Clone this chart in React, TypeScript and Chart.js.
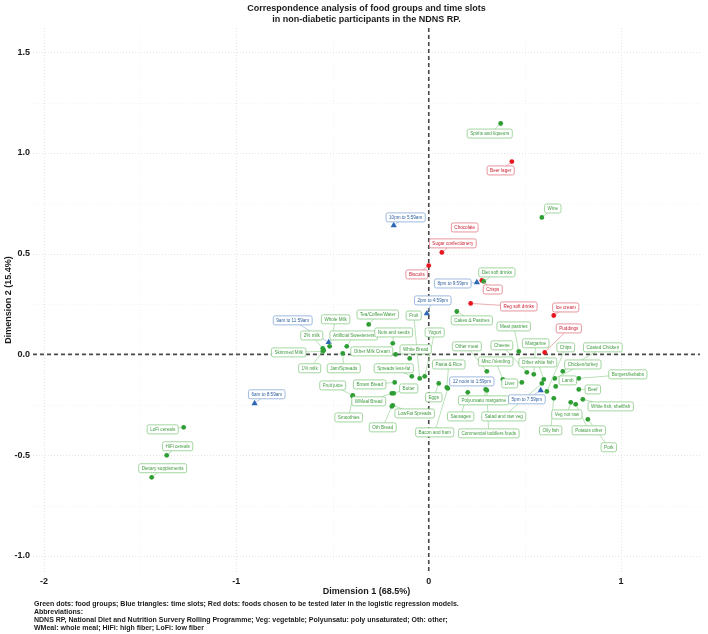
import { useEffect, useRef } from "react";
import { Chart, registerables } from "chart.js";

Chart.register(...registerables);

const FONT = '"Liberation Sans", Arial, Helvetica, sans-serif';

// ---- Data ----
const foodNames = [
  "Spirits and liqueurs", "Wine", "Diet soft drinks", "Cakes & Pastries", "Meat pastries",
  "Other meat", "Cheese", "Margarine", "Chips", "Coated Chicken",
  "Pasta & Rice", "Misc./Vending", "Other white fish", "Chicken/turkey", "Burgers/kebabs",
  "Liver", "Lamb", "Beef", "Eggs", "Polyunsatu margarine",
  "Sausages", "Salad and raw veg", "Veg not raw", "White fish, shellfish", "Bacon and ham",
  "Commercial toddlers foods", "Oily fish", "Potatos other", "Pork", "Tea/Coffee/Water",
  "Whole Milk", "Artificial Sweeteners", "2% milk", "Skimmed Milk", "1% milk",
  "Jam/Spreads", "Nuts and seeds", "Other Milk Cream", "White Bread", "Spreads less-fat",
  "Fruit", "Yogurt", "Brown Bread", "Butter", "WMeal Bread",
  "LowFat Spreads", "Oth Bread", "Fruit juice", "Smoothies", "LoFi cereals",
  "HiFi cereals", "Dietary supplements",
];
const foodDim1 = [
  0.374, 0.588, 0.286, 0.146, 0.468,
  0.302, 0.510, 0.546, 0.614, 0.697,
  0.094, 0.385, 0.598, 0.655, 0.780,
  0.484, 0.660, 0.780, 0.052, 0.296,
  0.203, 0.588, 0.738, 0.801, 0.099,
  0.302, 0.650, 0.764, 0.827, -0.312,
  -0.515, -0.426, -0.551, -0.551, -0.546,
  -0.447, -0.187, -0.172, -0.099, -0.088,
  -0.047, -0.021, -0.177, -0.182, -0.192,
  -0.187, -0.192, -0.395, -0.395, -1.274,
  -1.362, -1.440,
];
const foodDim2 = [
  1.146, 0.680, 0.362, 0.213, 0.015,
  -0.084, -0.089, -0.099, -0.184, -0.084,
  -0.164, -0.124, -0.124, -0.119, -0.119,
  -0.139, -0.159, -0.174, -0.144, -0.174,
  -0.188, -0.144, -0.238, -0.223, -0.169,
  -0.179, -0.218, -0.248, -0.322, 0.149,
  0.040, 0.040, 0.030, 0.015, 0.020,
  0.005, 0.055, 0.000, -0.020, -0.109,
  -0.119, -0.109, -0.139, -0.193, -0.193,
  -0.253, -0.258, -0.203, -0.208, -0.362,
  -0.501, -0.610,
];
const foodLabelDim1 = [
  0.317, 0.645, 0.354, 0.224, 0.442,
  0.198, 0.380, 0.556, 0.712, 0.905,
  0.104, 0.348, 0.567, 0.801, 1.035,
  0.421, 0.723, 0.853, 0.026, 0.286,
  0.166, 0.390, 0.718, 0.946, 0.031,
  0.312, 0.634, 0.832, 0.936, -0.265,
  -0.484, -0.390, -0.608, -0.728, -0.619,
  -0.442, -0.182, -0.296, -0.068, -0.182,
  -0.078, 0.031, -0.307, -0.104, -0.312,
  -0.073, -0.239, -0.499, -0.416, -1.383,
  -1.305, -1.383,
];
const foodLabelDim2 = [
  1.096, 0.724, 0.407, 0.169, 0.139,
  0.040, 0.045, 0.055, 0.035, 0.035,
  -0.050, -0.035, -0.040, -0.050, -0.099,
  -0.144, -0.129, -0.174, -0.213, -0.228,
  -0.308, -0.308, -0.298, -0.258, -0.387,
  -0.392, -0.377, -0.377, -0.461, 0.198,
  0.174, 0.094, 0.094, 0.010, -0.069,
  -0.069, 0.109, 0.015, 0.025, -0.069,
  0.193, 0.109, -0.149, -0.169, -0.233,
  -0.293, -0.362, -0.154, -0.313, -0.372,
  -0.456, -0.565,
];

const testedNames = [
  "Beer lager", "Chocolate", "Sugar confectionery", "Biscuits",
  "Crisps", "Reg soft drinks", "Ice cream", "Puddings",
];
const testedDim1 = [0.432, 0.172, 0.068, 0.0, 0.276, 0.218, 0.65, 0.603];
const testedDim2 = [0.957, 0.62, 0.506, 0.441, 0.367, 0.253, 0.193, 0.01];
const testedLabelDim1 = [0.374, 0.187, 0.125, -0.062, 0.333, 0.468, 0.712, 0.728];
const testedLabelDim2 = [0.913, 0.63, 0.551, 0.397, 0.322, 0.238, 0.233, 0.129];

const slotNames = [
  "10pm to 5:59am", "8pm to 9:59pm", "2pm to 4:59pm", "9am to 11:59am",
  "6am to 8:59am", "5pm to 7:59pm", "12 noon to 1:59pm",
];
const slotDim1 = [-0.182, 0.25, -0.01, -0.52, -0.905, 0.582, 0.203];
const slotDim2 = [0.64, 0.357, 0.203, 0.06, -0.243, -0.179, -0.139];
const slotLabelDim1 = [-0.12, 0.125, 0.021, -0.707, -0.842, 0.51, 0.224];
const slotLabelDim2 = [0.68, 0.352, 0.268, 0.169, -0.198, -0.223, -0.134];

const xTickValues = [-2, -1, 0, 1];
const yTickValues = [-1, -0.5, 0, 0.5, 1, 1.5];
const xGridValues = [-2, -1.5, -1, -0.5, 0, 0.5, 1];
const yGridMinor = [-0.75, -0.25, 0.25, 0.75, 1.25];

const titleLines = [
  "Correspondence analysis of food groups and time slots",
  "in non-diabetic participants in the NDNS RP.",
];
const xTitle = "Dimension 1 (68.5%)";
const yTitle = "Dimension 2 (15.4%)";
const footnotes = [
  "Green dots: food groups; Blue triangles: time slots; Red dots: foods chosen to be tested later in the logistic regression models.",
  "Abbreviations:",
  "NDNS RP, National Diet and Nutrition Survery Rolling Programme; Veg: vegetable; Polyunsatu: poly unsaturated; Oth: other;",
  "WMeal: whole meal; HiFi: high fiber; LoFi: low fiber",
];

// ---- Styles ----
const GREEN = "#2e9e34";
const GREEN_BORDER = "#8ccc88";
const GREEN_TEXT = "#3f9a3f";
const RED = "#e8141e";
const RED_BORDER = "#e07a84";
const RED_TEXT = "#cc1f33";
const BLUE = "#2c68b4";
const BLUE_BORDER = "#86a9d8";
const BLUE_TEXT = "#2f5f9e";

type LabelGroup = {
  names: string[];
  px: number[];
  py: number[];
  lx: number[];
  ly: number[];
  border: string;
  text: string;
};

const labelGroups: LabelGroup[] = [
  { names: foodNames, px: foodDim1, py: foodDim2, lx: foodLabelDim1, ly: foodLabelDim2, border: GREEN_BORDER, text: GREEN_TEXT },
  { names: testedNames, px: testedDim1, py: testedDim2, lx: testedLabelDim1, ly: testedLabelDim2, border: RED_BORDER, text: RED_TEXT },
  { names: slotNames, px: slotDim1, py: slotDim2, lx: slotLabelDim1, ly: slotLabelDim2, border: BLUE_BORDER, text: BLUE_TEXT },
];

function roundRect(ctx: CanvasRenderingContext2D, x: number, y: number, w: number, h: number, r: number) {
  ctx.beginPath();
  ctx.moveTo(x + r, y);
  ctx.lineTo(x + w - r, y);
  ctx.arcTo(x + w, y, x + w, y + r, r);
  ctx.lineTo(x + w, y + h - r);
  ctx.arcTo(x + w, y + h, x + w - r, y + h, r);
  ctx.lineTo(x + r, y + h);
  ctx.arcTo(x, y + h, x, y + h - r, r);
  ctx.lineTo(x, y + r);
  ctx.arcTo(x, y, x + r, y, r);
  ctx.closePath();
}

const decorPlugin = {
  id: "decor",
  beforeDatasetsDraw(chart: any) {
    const { ctx, chartArea: a, scales } = chart;
    const xs = scales.x;
    const ys = scales.y;
    ctx.save();
    ctx.lineWidth = 0.6;
    // minor horizontal
    ctx.strokeStyle = "#ececec";
    ctx.setLineDash([1, 2]);
    yGridMinor.forEach((v) => {
      const y = Math.round(ys.getPixelForValue(v)) + 0.5;
      ctx.beginPath();
      ctx.moveTo(a.left, y);
      ctx.lineTo(a.right, y);
      ctx.stroke();
    });
    xGridValues.forEach((v) => {
      const x = Math.round(xs.getPixelForValue(v)) + 0.5;
      ctx.strokeStyle = Number.isInteger(v) ? "#d4d4d4" : "#ececec";
      ctx.beginPath();
      ctx.moveTo(x, a.top);
      ctx.lineTo(x, a.bottom);
      ctx.stroke();
    });
    ctx.strokeStyle = "#d4d4d4";
    yTickValues.forEach((v) => {
      const y = Math.round(ys.getPixelForValue(v)) + 0.5;
      ctx.beginPath();
      ctx.moveTo(a.left, y);
      ctx.lineTo(a.right, y);
      ctx.stroke();
    });
    // dashed zero lines
    ctx.strokeStyle = "#4a4a4a";
    ctx.lineWidth = 1.6;
    ctx.setLineDash([4, 3]);
    const x0 = xs.getPixelForValue(0);
    const y0 = ys.getPixelForValue(0);
    ctx.beginPath();
    ctx.moveTo(x0, a.top);
    ctx.lineTo(x0, a.bottom);
    ctx.stroke();
    ctx.beginPath();
    ctx.moveTo(a.left, y0);
    ctx.lineTo(a.right, y0);
    ctx.stroke();
    ctx.restore();
  },
  afterDatasetsDraw(chart: any) {
    const { ctx, scales } = chart;
    const xs = scales.x;
    const ys = scales.y;
    ctx.save();
    ctx.font = `4.6px ${FONT}`;
    const boxes: any[] = [];
    labelGroups.forEach((g) => {
      g.names.forEach((name, i) => {
        const px = xs.getPixelForValue(g.px[i]);
        const py = ys.getPixelForValue(g.py[i]);
        const cx = xs.getPixelForValue(g.lx[i]);
        const cy = ys.getPixelForValue(g.ly[i]);
        const w = ctx.measureText(name).width + 6;
        const h = 9;
        boxes.push({ name, px, py, cx, cy, w, h, border: g.border, text: g.text });
      });
    });
    // segments
    ctx.lineWidth = 0.6;
    boxes.forEach((b) => {
      const dx = b.px - b.cx;
      const dy = b.py - b.cy;
      const tx = dx === 0 ? Infinity : Math.abs(b.w / 2 / dx);
      const ty = dy === 0 ? Infinity : Math.abs(b.h / 2 / dy);
      const t = Math.min(tx, ty);
      if (t >= 1) return;
      const sx = b.cx + dx * t;
      const sy = b.cy + dy * t;
      const len = Math.hypot(b.px - sx, b.py - sy);
      if (len < 4) return;
      const k = (len - 2) / len;
      ctx.strokeStyle = b.border;
      ctx.beginPath();
      ctx.moveTo(sx, sy);
      ctx.lineTo(sx + (b.px - sx) * k, sy + (b.py - sy) * k);
      ctx.stroke();
    });
    // boxes
    ctx.textAlign = "center";
    ctx.textBaseline = "middle";
    boxes.forEach((b) => {
      roundRect(ctx, b.cx - b.w / 2, b.cy - b.h / 2, b.w, b.h, 1.8);
      ctx.fillStyle = "#ffffff";
      ctx.fill();
      ctx.strokeStyle = b.border;
      ctx.lineWidth = 0.8;
      ctx.stroke();
      ctx.fillStyle = b.text;
      ctx.fillText(b.name, b.cx, b.cy + 0.3);
    });
    ctx.restore();
  },
  afterDraw(chart: any) {
    const { ctx, chartArea: a } = chart;
    ctx.save();
    ctx.fillStyle = "#1a1a1a";
    ctx.textAlign = "center";
    ctx.textBaseline = "middle";
    ctx.font = `bold 9px ${FONT}`;
    const cxm = (a.left + a.right) / 2;
    ctx.fillText(titleLines[0], cxm, 9);
    ctx.fillText(titleLines[1], cxm, 20);
    ctx.font = `bold 9px ${FONT}`;
    ctx.fillText(xTitle, cxm, 592);
    ctx.save();
    ctx.translate(9, (a.top + a.bottom) / 2);
    ctx.rotate(-Math.PI / 2);
    ctx.fillText(yTitle, 0, 0);
    ctx.restore();
    ctx.textAlign = "left";
    ctx.font = `bold 7px ${FONT}`;
    footnotes.forEach((line, i) => {
      ctx.fillText(line, 34, 604 + i * 8);
    });
    ctx.restore();
  },
};

export default function App() {
  const ref = useRef<HTMLCanvasElement | null>(null);

  useEffect(() => {
    document.body.style.margin = "0";
    const canvas = ref.current;
    if (!canvas) return;
    const chart = new Chart(canvas, {
      type: "scatter",
      data: {
        datasets: [
          {
            label: "Food groups",
            data: foodDim1.map((x, i) => ({ x, y: foodDim2[i] })),
            backgroundColor: GREEN,
            borderColor: GREEN,
            pointStyle: "circle",
            pointRadius: 2.4,
            borderWidth: 0,
          },
          {
            label: "Tested foods",
            data: testedDim1.map((x, i) => ({ x, y: testedDim2[i] })),
            backgroundColor: RED,
            borderColor: RED,
            pointStyle: "circle",
            pointRadius: 2.4,
            borderWidth: 0,
          },
          {
            label: "Time slots",
            data: slotDim1.map((x, i) => ({ x, y: slotDim2[i] })),
            backgroundColor: BLUE,
            borderColor: BLUE,
            pointStyle: "triangle",
            pointRadius: 3.6,
            borderWidth: 0,
          },
        ],
      },
      options: {
        responsive: false,
        animation: false,
        devicePixelRatio: 1,
        layout: { padding: { top: 28, right: 8, left: 0, bottom: 0 } },
        plugins: {
          legend: { display: false },
          tooltip: { enabled: false },
          title: { display: false },
        },
        scales: {
          x: {
            type: "linear",
            min: -2.057,
            max: 1.41,
            afterBuildTicks: (scale: any) => {
              scale.ticks = xTickValues.map((v) => ({ value: v }));
            },
            afterFit: (scale: any) => {
              scale.height = 62;
            },
            grid: { display: false, drawTicks: false },
            border: { display: false },
            ticks: {
              padding: 4,
              color: "#1a1a1a",
              font: { family: FONT, size: 9, weight: "bold" },
              callback: (v: any) => String(v),
            },
          },
          y: {
            type: "linear",
            min: -1.08,
            max: 1.62,
            afterBuildTicks: (scale: any) => {
              scale.ticks = yTickValues.map((v) => ({ value: v }));
            },
            afterFit: (scale: any) => {
              scale.width = 33;
            },
            grid: { display: false, drawTicks: false },
            border: { display: false },
            ticks: {
              padding: 3,
              color: "#1a1a1a",
              font: { family: FONT, size: 9, weight: "bold" },
              callback: (v: any) => Number(v).toFixed(1),
            },
          },
        },
      },
      plugins: [decorPlugin],
    } as any);
    return () => chart.destroy();
  }, []);

  return (
    <div style={{ width: 708, height: 634, background: "#ffffff" }}>
      <canvas ref={ref} width={708} height={634} style={{ display: "block" }} />
    </div>
  );
}
